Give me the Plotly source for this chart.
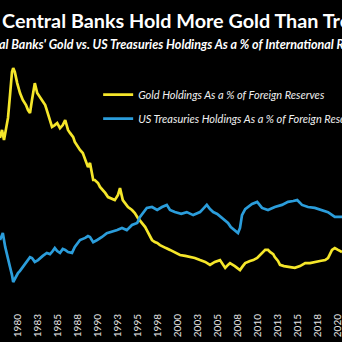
import plotly.graph_objects as go

gold_years = [1977.75, 1978.0, 1978.25, 1978.5, 1978.75, 1979.0, 1979.25, 1979.4, 1979.6, 1979.9,
              1980.25, 1980.6, 1981.0, 1981.25, 1981.5, 1981.75, 1982.0, 1982.1, 1982.4, 1982.75,
              1983.0, 1983.4, 1983.6, 1984.0, 1984.25, 1984.6, 1984.9, 1985.25, 1985.6, 1985.9,
              1986.25, 1986.5, 1986.9, 1987.1, 1987.5, 1987.75, 1988.1, 1988.4, 1988.75, 1989.0,
              1989.4, 1989.6, 1990.0, 1990.25, 1990.6, 1990.9, 1991.25, 1991.5, 1991.9, 1992.1,
              1992.5, 1992.75, 1993.1, 1993.4, 1993.75, 1994.25, 1994.6, 1995.0, 1995.5, 1995.9,
              1996.1, 1996.5, 1996.75, 1997.1, 1997.4, 1997.75, 1998.1, 1998.5, 1999.0, 1999.6,
              2000.25, 2000.9, 2001.5, 2002.1, 2002.75, 2003.4, 2004.0, 2004.6, 2005.25, 2005.6,
              2005.9, 2006.25, 2006.5, 2007.1, 2007.75, 2008.1, 2008.4, 2009.0, 2009.4, 2009.9,
              2010.25, 2010.6, 2010.9, 2011.25, 2011.5, 2011.9, 2012.1, 2012.5, 2012.75, 2013.25,
              2013.75, 2014.25, 2014.6, 2015.25, 2015.9, 2016.5, 2017.1, 2017.75, 2018.4, 2018.75,
              2019.25, 2019.6, 2020.0, 2020.5]
gold_pct = [54.0, 56.7, 53.3, 57.3, 60.7, 68.3, 76.0, 77.3, 76.0, 72.3,
            69.0, 66.7, 65.0, 63.3, 62.3, 66.7, 71.7, 72.3, 69.0, 67.7,
            66.7, 65.0, 63.3, 60.0, 57.7, 58.3, 59.0, 57.3, 58.3, 60.0,
            56.7, 55.7, 54.3, 52.7, 51.0, 50.0, 49.0, 46.7, 44.3, 45.7,
            40.0, 40.0, 39.0, 37.7, 36.7, 35.7, 34.3, 34.0, 33.3, 33.3,
            35.0, 37.3, 33.3, 32.3, 31.0, 30.0, 29.0, 27.3, 25.7, 24.3,
            23.3, 21.3, 20.0, 19.3, 19.0, 18.3, 17.7, 17.3, 16.7, 16.0,
            15.0, 14.7, 14.3, 14.0, 13.3, 12.7, 11.7, 12.7, 13.3, 12.0,
            10.7, 11.7, 12.3, 11.3, 10.0, 11.3, 12.3, 13.0, 13.3, 14.0,
            15.0, 16.0, 16.7, 16.7, 16.0, 15.3, 14.3, 13.0, 11.7, 11.3,
            11.0, 10.7, 10.7, 11.3, 12.3, 12.3, 12.7, 13.0, 13.3, 14.0,
            16.7, 17.3, 16.7, 16.0]

ust_years = [1977.75, 1978.1, 1978.4, 1978.75, 1979.0, 1979.25, 1979.4, 1979.6, 1980.0, 1980.25,
             1980.6, 1980.9, 1981.25, 1981.5, 1981.75, 1982.1, 1982.5, 1982.75, 1983.1, 1983.6,
             1984.0, 1984.25, 1984.6, 1984.9, 1985.25, 1985.6, 1985.9, 1986.25, 1986.75, 1987.1,
             1987.5, 1987.75, 1988.4, 1988.75, 1989.0, 1989.4, 1989.9, 1990.5, 1991.1, 1991.75,
             1992.4, 1993.0, 1993.6, 1994.25, 1994.9, 1995.25, 1995.6, 1996.1, 1996.75, 1997.4,
             1998.0, 1998.6, 1999.0, 1999.6, 2000.4, 2001.1, 2001.9, 2002.75, 2003.25, 2003.6,
             2004.0, 2004.4, 2004.9, 2005.4, 2005.75, 2006.25, 2006.6, 2007.0, 2007.5, 2007.75,
             2008.0, 2008.4, 2008.75, 2009.25, 2009.9, 2010.5, 2011.25, 2012.1, 2013.0, 2013.75,
             2014.4, 2014.9, 2015.5, 2016.25, 2017.1, 2018.0, 2018.75, 2019.6, 2020.5]
ust_pct = [20.0, 22.3, 17.7, 13.3, 11.0, 8.3, 6.0, 7.0, 9.0, 9.7,
           11.0, 12.0, 13.3, 14.3, 14.0, 12.7, 13.3, 14.0, 14.7, 15.7,
           15.3, 16.0, 17.3, 16.3, 15.7, 17.0, 16.7, 16.0, 15.7, 17.7,
           19.0, 20.0, 20.7, 21.3, 21.0, 19.3, 20.0, 21.0, 22.3, 22.7,
           23.3, 24.0, 23.3, 25.0, 25.7, 27.7, 29.0, 30.7, 31.0, 30.0,
           31.0, 31.7, 30.0, 29.3, 28.7, 29.3, 28.3, 29.3, 30.7, 31.7,
           30.3, 29.3, 28.7, 27.7, 26.7, 25.7, 24.3, 23.3, 22.3, 24.0,
           28.3, 30.3, 31.0, 32.0, 32.7, 30.7, 30.0, 31.0, 31.7, 32.7,
           33.0, 33.3, 31.7, 31.0, 30.7, 30.0, 29.3, 27.7, 27.7]

tick_vals = [1977.5, 1980, 1982.5, 1985, 1987.5, 1990, 1992.5, 1995, 1997.5, 2000,
             2002.5, 2005, 2007.5, 2010, 2012.5, 2015, 2017.5, 2020]
tick_text = ["1978", "1980", "1983", "1985", "1988", "1990", "1993", "1995", "1998", "2000",
             "2003", "2005", "2008", "2010", "2013", "2015", "2018", "2020"]

title_text = "Central Banks Hold More Gold Than Treasuries"
subtitle_text = "Central Banks' Gold vs. US Treasuries Holdings As a % of International Reserves"

FONT = "Lato"

fig = go.Figure()
fig.add_trace(go.Scatter(x=gold_years, y=gold_pct, mode="lines",
                         name="Gold Holdings As a % of Foreign Reserves", legendgroup="g1",
                         line=dict(color="#f5e62a", width=2.7)))
fig.add_trace(go.Scatter(x=ust_years, y=ust_pct, mode="lines",
                         name="US Treasuries Holdings As a % of Foreign Reserves", legendgroup="g2",
                         line=dict(color="#2b9ddb", width=2.7)))

fig.update_layout(
    width=342, height=342,
    margin=dict(l=0, r=0, t=60, b=30, autoexpand=False),
    paper_bgcolor="#000000", plot_bgcolor="#000000",
    font=dict(family=FONT, color="#ffffff"),
    showlegend=True,
    legend=dict(x=0.287, y=0.92, xanchor="left", yanchor="top",
                bgcolor="rgba(0,0,0,0)", tracegroupgap=5,
                font=dict(family=FONT, size=11, color="#f0f0f0", style="italic")),
    title=dict(text="<b>" + title_text + "</b>", x=0.006, xanchor="left",
               y=1 - 21 / 342, yanchor="middle", yref="container",
               font=dict(family=FONT, size=19.8, color="#ffffff")),
    annotations=[dict(text="<b><i>" + subtitle_text + "</i></b>", xref="paper", yref="paper",
                      x=-0.094, xanchor="left", y=(342 - 30 - 44) / 252, yanchor="middle",
                      showarrow=False, font=dict(family=FONT, size=12.5, color="#ffffff"))],
    xaxis=dict(range=[1977.75, 2020.5], tickvals=tick_vals, ticktext=tick_text,
               tickangle=-90, showgrid=False, zeroline=False, showline=False,
               ticklabeloverflow="allow", ticklabelstandoff=-1,
               tickfont=dict(family=FONT, size=10, color="#e6e6e6")),
    yaxis=dict(range=[-4, 80], showgrid=False, zeroline=False, showline=False,
               showticklabels=False),
)

fig.write_html("out.html")
